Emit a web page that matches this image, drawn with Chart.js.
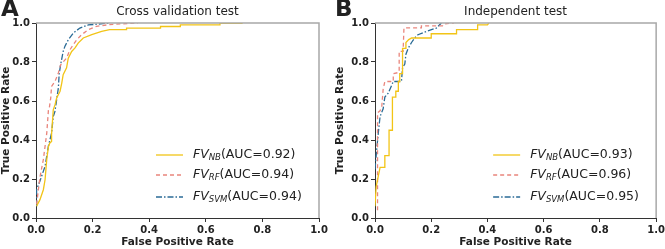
<!DOCTYPE html>
<html>
<head>
<meta charset="utf-8">
<script src="https://cdn.jsdelivr.net/npm/chart.js@4"></script>
<style>
  html, body { margin: 0; padding: 0; background: #fff; overflow: hidden; }
  #wrap { position: relative; width: 665px; height: 249px; }
  canvas { position: absolute; top: 0; }
</style>
</head>
<body>
<div id="wrap">
  <canvas id="rocA" style="left:0px"></canvas>
  <canvas id="rocB" style="left:327px"></canvas>
</div>
<script>
// tick labels
const ticks = [0, 0.2, 0.4, 0.6, 0.8, 1.0]

// A - cross validation
const cvNbX = [0.002, 0.014, 0.026, 0.032, 0.038, 0.044, 0.049, 0.055, 0.055, 0.061, 0.067, 0.073, 0.085, 0.091, 0.096, 0.108, 0.114, 0.126, 0.138, 0.149, 0.167, 0.197, 0.232, 0.26, 0.32, 0.32, 0.44, 0.44, 0.51, 0.51, 0.65, 0.65, 0.73]
const cvNbY = [0.06, 0.094, 0.145, 0.196, 0.30, 0.367, 0.385, 0.393, 0.43, 0.555, 0.58, 0.615, 0.65, 0.692, 0.735, 0.77, 0.82, 0.854, 0.872, 0.897, 0.923, 0.94, 0.957, 0.966, 0.966, 0.974, 0.974, 0.982, 0.982, 0.99, 0.99, 0.998, 0.998]
const cvRfX = [0.002, 0.014, 0.026, 0.038, 0.044, 0.047, 0.052, 0.055, 0.067, 0.079, 0.087, 0.108, 0.12, 0.132, 0.144, 0.161, 0.185, 0.214, 0.26, 0.36]
const cvRfY = [0.07, 0.21, 0.30, 0.435, 0.555, 0.564, 0.615, 0.675, 0.70, 0.744, 0.786, 0.82, 0.863, 0.889, 0.914, 0.94, 0.966, 0.983, 0.992, 1.0]
const cvSvmX = [0.002, 0.002, 0.014, 0.032, 0.044, 0.055, 0.061, 0.067, 0.079, 0.082, 0.087, 0.096, 0.102, 0.114, 0.132, 0.155, 0.185, 0.26]
const cvSvmY = [0.06, 0.145, 0.19, 0.265, 0.37, 0.435, 0.52, 0.547, 0.667, 0.74, 0.786, 0.854, 0.88, 0.914, 0.949, 0.974, 0.99, 1.0]
const cvAuc = ['0.92', '0.94', '0.94']

// B - independent test
const indNbX = [0, 0.004, 0.018, 0.035, 0.035, 0.05, 0.05, 0.062, 0.062, 0.074, 0.074, 0.083, 0.083, 0.088, 0.088, 0.098, 0.098, 0.11, 0.11, 0.12, 0.13, 0.2, 0.2, 0.29, 0.29, 0.365, 0.365, 0.40, 0.405]
const indNbY = [0.06, 0.16, 0.26, 0.26, 0.32, 0.32, 0.45, 0.45, 0.62, 0.62, 0.65, 0.65, 0.70, 0.70, 0.74, 0.74, 0.87, 0.87, 0.90, 0.915, 0.923, 0.923, 0.945, 0.945, 0.966, 0.966, 0.99, 0.99, 1.0]
const indRfX = [0.009, 0.009, 0.018, 0.024, 0.029, 0.035, 0.05, 0.065, 0.065, 0.08, 0.086, 0.086, 0.1, 0.103, 0.165, 0.165, 0.24, 0.245, 0.28]
const indRfY = [0.04, 0.54, 0.55, 0.57, 0.66, 0.70, 0.70, 0.70, 0.74, 0.745, 0.75, 0.855, 0.855, 0.975, 0.975, 0.985, 0.985, 0.995, 1.0]
const indSvmX = [0, 0.006, 0.012, 0.018, 0.029, 0.035, 0.047, 0.065, 0.094, 0.098, 0.106, 0.11, 0.118, 0.13, 0.141, 0.153, 0.183, 0.218, 0.236]
const indSvmY = [0.25, 0.35, 0.44, 0.52, 0.56, 0.62, 0.64, 0.70, 0.70, 0.77, 0.79, 0.84, 0.87, 0.90, 0.923, 0.94, 0.957, 0.974, 1.0]
const indAuc = ['0.93', '0.96', '0.95']

const names = ['NB', 'RF', 'SVM']
const colors = ['#f2c416', '#e9857c', '#2a6b96']
const dashes = [[], [4, 3], [6, 2, 1.5, 2]]

const FONT = "'DejaVu Sans', sans-serif"

const pts = (xs, ys) => xs.map((x, i) => ({ x: x, y: ys[i] }))

const extras = {
    id: 'extras',
    afterDraw(chart, args, opts) {
        const ctx = chart.ctx
        const a = chart.chartArea
        ctx.save()
        // top / right frame
        ctx.strokeStyle = '#a8a8a8'
        ctx.lineWidth = 1.5
        ctx.beginPath()
        ctx.moveTo(a.left, a.top)
        ctx.lineTo(a.right, a.top)
        ctx.lineTo(a.right, a.bottom)
        ctx.stroke()

        // title + panel letter
        ctx.fillStyle = '#222'
        ctx.textBaseline = 'middle'
        ctx.textAlign = 'center'
        ctx.font = '12px ' + FONT
        ctx.fillText(opts.title, (a.left + a.right) / 2, 12)
        ctx.textAlign = 'left'
        ctx.textBaseline = 'top'
        ctx.font = 'bold 23px ' + FONT
        ctx.fillText(opts.letter, opts.letterX, -1)

        // legend
        const rows = [63, 43, 21]
        rows.forEach((dy, i) => {
            const y = a.bottom - dy
            ctx.strokeStyle = colors[i]
            ctx.lineWidth = 1.3
            ctx.setLineDash(dashes[i])
            ctx.beginPath()
            ctx.moveTo(a.right - 163, y)
            ctx.lineTo(a.right - 136, y)
            ctx.stroke()
            ctx.setLineDash([])
            ctx.fillStyle = '#222'
            ctx.textBaseline = 'middle'
            let x = a.right - 126
            ctx.font = 'italic 12.5px ' + FONT
            ctx.fillText('FV', x, y)
            x += ctx.measureText('FV').width
            ctx.font = 'italic 8.5px ' + FONT
            ctx.fillText(names[i], x, y + 3)
            x += ctx.measureText(names[i]).width
            ctx.font = '12.5px ' + FONT
            ctx.fillText('(AUC=' + opts.auc[i] + ')', x, y)
        })
        ctx.restore()
    }
}

const rocChart = (id, series, title, letter, letterX, auc, pad, yWidth) => {
    const el = document.getElementById(id)
    new Chart(el, {
        type: 'scatter',
        data: {
            datasets: series.map((s, i) => ({
                label: names[i],
                data: s,
                showLine: true,
                borderColor: colors[i],
                borderWidth: 1.3,
                borderDash: dashes[i],
                pointRadius: 0,
                tension: 0
            }))
        },
        options: {
            responsive: false,
            animation: false,
            layout: { padding: pad },
            plugins: {
                legend: { display: false },
                tooltip: { enabled: false },
                extras: { title: title, letter: letter, letterX: letterX, auc: auc }
            },
            scales: {
                x: {
                    type: 'linear', min: 0, max: 1,
                    afterFit: s => { s.height = 31 },
                    afterBuildTicks: s => { s.ticks = ticks.map(v => ({ value: v })) },
                    ticks: { callback: v => v.toFixed(1), color: '#222', padding: 2, font: { family: FONT, size: 10, weight: 'bold' }, maxRotation: 0 },
                    grid: { drawOnChartArea: false, tickLength: 4, color: '#333' },
                    border: { color: '#333', width: 1 },
                    title: { display: true, text: 'False Positive Rate', color: '#222', padding: 0, font: { family: FONT, size: 10.5, weight: 'bold' } }
                },
                y: {
                    type: 'linear', min: 0, max: 1,
                    afterFit: s => { s.width = yWidth },
                    afterBuildTicks: s => { s.ticks = ticks.map(v => ({ value: v })) },
                    ticks: { callback: v => v.toFixed(1), color: '#222', padding: 2, font: { family: FONT, size: 10, weight: 'bold' } },
                    grid: { drawOnChartArea: false, tickLength: 4, color: '#333' },
                    border: { color: '#333', width: 1 },
                    title: { display: true, text: 'True Positive Rate', color: '#222', padding: 0, font: { family: FONT, size: 10.5, weight: 'bold' } }
                }
            }
        },
        plugins: [extras]
    })
}

document.getElementById('rocA').width = 340
document.getElementById('rocA').height = 249
document.getElementById('rocB').width = 340
document.getElementById('rocB').height = 249

rocChart('rocA', [pts(cvNbX, cvNbY), pts(cvRfX, cvRfY), pts(cvSvmX, cvSvmY)],
    'Cross validation test', 'A', 1, cvAuc, { left: 0, right: 21, top: 23, bottom: 0 }, 36)
rocChart('rocB', [pts(indNbX, indNbY), pts(indRfX, indRfY), pts(indSvmX, indSvmY)],
    'Independent test', 'B', 8, indAuc, { left: 7, right: 9, top: 23, bottom: 0 }, 41)
</script>
</body>
</html>
